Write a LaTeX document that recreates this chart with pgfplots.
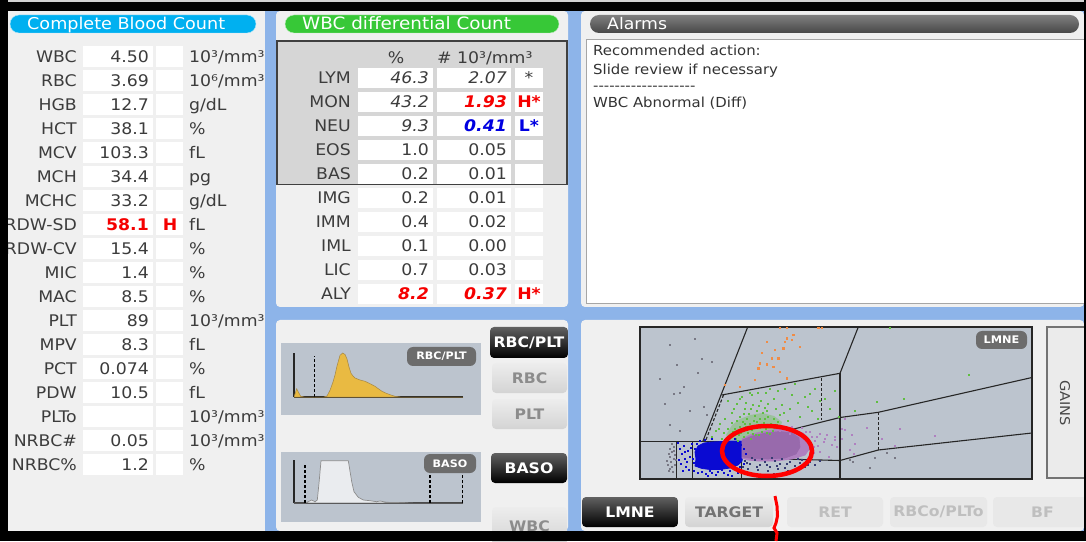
\documentclass[border=0pt]{standalone}
\usepackage{pgfplots}
\pgfplotsset{compat=1.18}
\usepackage{fontspec}
\setmainfont{DejaVu Sans}[FakeStretch=1.08]

\definecolor{panel}{RGB}{240,240,240}
\definecolor{strip}{RGB}{141,180,233}
\definecolor{cyanpill}{RGB}{0,176,240}
\definecolor{greenpill}{RGB}{55,200,55}
\definecolor{txt}{RGB}{60,60,60}
\definecolor{diffbox}{RGB}{214,214,214}
\definecolor{histbg}{RGB}{188,196,206}
\definecolor{yel}{RGB}{233,186,66}
\definecolor{yeldk}{RGB}{165,135,70}
\definecolor{basofill}{RGB}{234,236,239}
\definecolor{badge}{RGB}{108,108,108}
\definecolor{redF}{RGB}{245,0,0}
\definecolor{blueF}{RGB}{0,0,225}
\definecolor{blueD}{RGB}{10,10,210}
\definecolor{purp}{RGB}{152,106,172}
\definecolor{purpL}{RGB}{175,128,192}
\definecolor{greenD}{RGB}{95,190,65}
\definecolor{orangeD}{RGB}{240,140,70}
\definecolor{grayD}{RGB}{120,120,132}
\definecolor{navy}{RGB}{55,60,115}

\newcommand\tf{\fontsize{16}{19}\selectfont}
\newcommand\af{\fontsize{13.8}{17}\selectfont}
\newcommand\btnf{\fontsize{14.5}{17}\selectfont\bfseries}
\newcommand\hy{-\kern0pt}
\tikzset{lab/.style={inner sep=0pt,font=\tf,text=txt}}

% Complete blood count row: y, label, value, flag, unit
\newcommand\cbc[5]{%
  \fill[white] (83,#1-10.5) rectangle (153,#1+10.5);
  \fill[white] (156,#1-10.5) rectangle (183,#1+10.5);
  \node[lab,anchor=base east] at (77,#1+6) {#2};
  \node[lab,anchor=base east] at (149,#1+6) {#3};
  \node[lab,anchor=base,text=redF,font=\tf\bfseries] at (170,#1+6) {#4};
  \node[lab,anchor=base west] at (189,#1+6) {#5};
}
% differential row: y, label, pct, abs, flag
\newcommand\dif[5]{%
  \fill[white] (358,#1-10) rectangle (433,#1+10);
  \fill[white] (437,#1-10) rectangle (511,#1+10);
  \fill[white] (515,#1-10) rectangle (543,#1+10);
  \node[lab,anchor=base east] at (351,#1+6) {#2};
  \node[lab,anchor=base east] at (429,#1+6) {#3};
  \node[lab,anchor=base east] at (507,#1+6) {#4};
  \node[lab,anchor=base,font=\tf\bfseries] at (529,#1+6) {#5};
}
\newcommand\blackbtn[5]{% x1 y1 x2 y2 text
  \shade[top color=black!62,bottom color=black,rounded corners=4pt] (#1,#2) rectangle (#3,#4);
  \node[inner sep=0pt,text=white,font=\btnf] at ({(#1+#3)/2},{(#2+#4)/2}) {#5};
}
\newcommand\graybtn[6]{% x1 y1 x2 y2 text textcolor
  \shade[top color=black!7,bottom color=black!17,rounded corners=4pt] (#1,#2) rectangle (#3,#4);
  \node[inner sep=0pt,text=#6,font=\btnf] at ({(#1+#3)/2},{(#2+#4)/2}) {#5};
}
\newcommand\palebtn[5]{%
  \fill[black!9,rounded corners=4pt] (#1,#2) rectangle (#3,#4);
  \node[inner sep=0pt,text=black!25,font=\btnf] at ({(#1+#3)/2},{(#2+#4)/2}) {#5};
}

\begin{document}
\begin{tikzpicture}
\useasboundingbox (0,0) rectangle (1086pt,541pt);
\begin{scope}[x=1pt,y=-1pt,yshift=541pt]
  \fill[black] (0,0) rectangle (1086,541);
  \fill[strip] (8,11) rectangle (1084,531);
  % panels
  \fill[panel] (8,11) rectangle (265,531);
  \fill[panel,rounded corners=4pt] (276,11) rectangle (568,307);
  \fill[panel,rounded corners=4pt] (581,11) rectangle (1084,307);
  \fill[panel,rounded corners=4pt] (276,320) rectangle (568,531);
  \fill[panel,rounded corners=4pt] (581,320) rectangle (1084,531);

  % ---- Complete Blood Count
  \fill[cyanpill,draw=white!70!cyanpill,rounded corners=9pt] (10,15) rectangle (256,33);
  \node[inner sep=0pt,anchor=base west,text=white,font=\fontsize{16.3}{19}\selectfont] at (27,30) {Complete Blood Count};
  \cbc{56.5}{WBC}{4.50}{}{10³/mm³}
  \cbc{80.5}{RBC}{3.69}{}{10⁶/mm³}
  \cbc{104.5}{HGB}{12.7}{}{g/dL}
  \cbc{128.5}{HCT}{38.1}{}{\%}
  \cbc{152.5}{MCV}{103.3}{}{fL}
  \cbc{176.5}{MCH}{34.4}{}{pg}
  \cbc{200.5}{MCHC}{33.2}{}{g/dL}
  \cbc{224.5}{RDW-SD}{\textcolor{redF}{\bfseries 58.1}}{H}{fL}
  \cbc{248.5}{RDW-CV}{15.4}{}{\%}
  \cbc{272.5}{MIC}{1.4}{}{\%}
  \cbc{296.5}{MAC}{8.5}{}{\%}
  \cbc{320.5}{PLT}{89}{}{10³/mm³}
  \cbc{344.5}{MPV}{8.3}{}{fL}
  \cbc{368.5}{PCT}{0.074}{}{\%}
  \cbc{392.5}{PDW}{10.5}{}{fL}
  \cbc{416.5}{PLTo}{}{}{10³/mm³}
  \cbc{440.5}{NRBC\#}{0.05}{}{10³/mm³}
  \cbc{464.5}{NRBC\%}{1.2}{}{\%}
  \fill[strip] (265,11) rectangle (276,531);

  % ---- WBC differential
  \fill[greenpill,draw=white!70!greenpill,rounded corners=9pt] (285,15) rectangle (559,33);
  \node[inner sep=0pt,anchor=base west,text=white,font=\fontsize{17}{19}\selectfont] at (302,30) {WBC differential Count};
  \fill[diffbox,draw=black!75,line width=1.3pt] (277,41) rectangle (567,184.5);
  \node[lab,anchor=base] at (396,63.5) {\%};
  \node[lab,anchor=base west] at (437,63.5) {\# 10³/mm³};
  \dif{78}{LYM}{\itshape 46.3}{\itshape 2.07}{\mdseries *}
  \dif{102}{MON}{\itshape 43.2}{\textcolor{redF}{\bfseries\itshape 1.93}}{\textcolor{redF}{H*}}
  \dif{126}{NEU}{\itshape 9.3}{\textcolor{blueF}{\bfseries\itshape 0.41}}{\textcolor{blueF}{L*}}
  \dif{150}{EOS}{1.0}{0.05}{}
  \dif{174}{BAS}{0.2}{0.01}{}
  \dif{198}{IMG}{0.2}{0.01}{}
  \dif{222}{IMM}{0.4}{0.02}{}
  \dif{246}{IML}{0.1}{0.00}{}
  \dif{270}{LIC}{0.7}{0.03}{}
  \dif{294}{ALY}{\textcolor{redF}{\bfseries\itshape 8.2}}{\textcolor{redF}{\bfseries\itshape 0.37}}{\textcolor{redF}{H*}}

  % ---- Alarms
  \shade[top color=black!50,bottom color=black!72,rounded corners=9pt] (590,15) rectangle (1079,33);
  \node[inner sep=0pt,anchor=base west,text=white,font=\fontsize{16}{19}\selectfont] at (607,30) {Alarms};
  \fill[white,draw=black!35,line width=1pt] (586,40) rectangle (1085,304);
  \node[inner sep=0pt,anchor=base west,text=black!80,font=\af] at (593,56) {Recommended action:};
  \node[inner sep=0pt,anchor=base west,text=black!80,font=\af] at (593,74.5) {Slide review if necessary};
  \node[inner sep=0pt,anchor=base west,text=black!80,font=\af] at (593,90.5) {\hy\hy\hy\hy\hy\hy\hy\hy\hy\hy\hy\hy\hy\hy\hy\hy\hy\hy\hy};
  \node[inner sep=0pt,anchor=base west,text=black!80,font=\af] at (593,108) {WBC Abnormal (Diff)};

  % ---- histogram panels and buttons
  \fill[histbg] (281,343) rectangle (481,415);
  \fill[histbg] (281,452) rectangle (481,522);
  \blackbtn{490}{327}{568}{358}{RBC/PLT}
  \graybtn{492}{363}{567}{393}{RBC}{black!45}
  \graybtn{492}{399}{567}{429}{PLT}{black!45}
  \blackbtn{491}{453}{567}{483}{BASO}
  \graybtn{492}{507}{567}{545}{WBC}{black!45}

  % ---- scatter panel buttons
  \fill[black!8,draw=black!55,line width=1.3pt] (1047,327) rectangle (1090,478);
  \node[inner sep=0pt,rotate=-90,text=black!72,font=\fontsize{13.5}{16}\selectfont] at (1065,403) {GAINS};
  \blackbtn{582}{497}{678}{527}{LMNE}
  \graybtn{685}{497}{773}{527}{TARGET}{black!55}
  \palebtn{787}{497}{883}{527}{RET}
  \palebtn{890}{497}{987}{527}{RBCo/PLTo}
  \palebtn{993}{497}{1092}{527}{BF}
\end{scope}

% ===== RBC/PLT histogram
\begin{axis}[at={(294pt,144pt)},anchor=south west,scale only axis,
  width=169pt,height=44pt,xmin=0,xmax=169,ymin=0,ymax=44,
  axis lines=left,axis line style={-,line width=1.2pt,black!85},ticks=none]
  \draw[line width=1.4pt,dash pattern=on 3pt off 2pt] (axis cs:20.3,0) -- (axis cs:20.3,40.7);
  \addplot[fill=yel,draw=yeldk,line width=0.5pt] coordinates {
    (0,0) (1,3) (2.7,8.3) (4.3,5) (6.7,0.7) (10,0) (30,0) (33,1) (36,6.7) (39,15)
    (41,22) (43,31) (46,41.7) (48.7,44) (51,42.5) (53,38) (55,30) (57,23.7)
    (59,21) (61,19) (66,17) (71,15.7) (76,13.3) (81,10.7) (84,8.5) (88,5.7)
    (92,3.8) (96,2.3) (101,0.7) (106,0) (169,0)} \closedcycle;
\end{axis}

% ===== BASO histogram
\begin{axis}[at={(294pt,38pt)},anchor=south west,scale only axis,
  width=169pt,height=43pt,xmin=0,xmax=169,ymin=0,ymax=43,
  axis lines=left,axis line style={-,line width=1.2pt,black!85},ticks=none]
  \addplot[fill=basofill,draw=black!45,line width=0.7pt] coordinates {
    (0,0) (11,0) (14.3,1.3) (17.7,3) (21,1.3) (23.3,3) (25.3,23) (27,42.3)
    (54.3,42.3) (57.7,21.3) (60,11.3) (64.3,5.7) (69.3,3) (76,2.3) (82.7,1.3)
    (86,2) (92.7,0.7) (109.3,0.3) (119,0) (169,0)} \closedcycle;
  \draw[line width=1.4pt,dash pattern=on 3pt off 2pt] (axis cs:11,0) -- (axis cs:11,39);
  \draw[line width=1.4pt,dash pattern=on 3pt off 2pt] (axis cs:136,0) -- (axis cs:136,31.3);
  \draw[line width=1.4pt,dash pattern=on 3pt off 2pt] (axis cs:168.5,0) -- (axis cs:168.5,31.3);
\end{axis}

% ===== LMNE scatter
\begin{axis}[at={(640pt,62pt)},anchor=south west,scale only axis,
  width=392pt,height=152pt,xmin=0,xmax=392,ymin=0,ymax=152,ticks=none,
  axis line style={line width=1.2pt,black!85},
  axis background/.style={fill=histbg},clip=false]
  % gates
  \draw[line width=1.1pt,black!85] (axis cs:107.7,152) -- (axis cs:62.7,37.3);
  \draw[line width=1.1pt,black!85,dash pattern=on 3pt off 2pt] (axis cs:83.5,84) -- (axis cs:65.5,38);
  \draw[line width=1.1pt,black!85] (axis cs:81.7,84) -- (axis cs:200,105.7) -- (axis cs:218.3,152);
  \draw[line width=1.1pt,black!85] (axis cs:200,105.7) -- (axis cs:200,0);
  \draw[line width=1.2pt,black!85,dash pattern=on 3pt off 2pt] (axis cs:181.7,101) -- (axis cs:181.7,59);
  \draw[line width=1.1pt,black!85] (axis cs:101.7,37) -- (axis cs:200,61.5) -- (axis cs:238.3,66.7) -- (axis cs:392,101.5);
  \draw[line width=1.2pt,black!85,dash pattern=on 3pt off 2pt] (axis cs:238.3,66.7) -- (axis cs:238.3,29);
  \draw[line width=1.1pt,black!85] (axis cs:101.7,21) -- (axis cs:200,18.5) -- (axis cs:238.3,29) -- (axis cs:392,46);
  \draw[line width=1.1pt,black!85] (axis cs:0,37.3) -- (axis cs:101.7,37.3);
  \draw[line width=1.1pt,black!85] (axis cs:36.7,37.3) -- (axis cs:36.7,0);
  \draw[line width=1.1pt,black!85] (axis cs:52.3,37.3) -- (axis cs:52.3,0);
  \draw[line width=1.1pt,black!85] (axis cs:101.7,37.3) -- (axis cs:101.7,0);
  % gray debris
  \addplot[only marks,mark=square*,mark size=0.5pt,grayD] coordinates {
    (30,134) (36.7,114) (71.7,117.3) (43.3,92.3) (33.3,85.7) (63.3,72.3) (50,68)
    (30,54.7) (40,48) (66.7,64) (61.7,120.7) (58,106) (40,86) (20,100) (55,140) (25,75)
    (30,30.7) (31.7,27.3) (29.3,22.3) (33.3,20.7) (30.7,17.3) (35,14) (30,10.7)
    (32.7,7.3) (33.3,32.3) (28.3,25.7) (35,24) (31.7,12.3) (27,18) (34,28) (29,8)
    (36,19) (32,35) (28,14) (210,19) (235,21.3) (255,21.3) (230,11) (213,17) (247,26)};
  % monocytes / green (dense zone + points)
  \addplot[fill=greenD,draw=none,fill opacity=0.35] coordinates {
    (86,44) (92,54) (100,60) (110,64) (122,66) (134,63) (142,57) (140,50) (128,46)
    (114,42) (100,39) (90,39)} -- cycle;
  \addplot[only marks,mark=square*,mark size=0.6pt,greenD] coordinates {
    (96,40) (99,44) (102,48) (104,42) (106,52) (108,46) (110,55) (112,49) (114,58)
    (116,44) (118,53) (120,60) (122,47) (124,56) (126,50) (128,62) (130,45) (100,52)
    (103,57) (107,60) (111,40) (115,63) (119,44) (123,66) (127,46) (131,55) (134,60)
    (98,38) (109,65) (117,68) (93,47) (90,42) (88,50) (125,71) (135,50) (138,57)
    (140,64) (105,70) (113,74) (121,78) (85,60) (80,55) (92,66) (97,75) (102,82)
    (110,86) (118,86) (126,86) (134,80) (142,74) (150,70) (158,76) (165,82) (172,68)
    (178,60) (145,90) (155,95) (130,90) (112,84) (100,80) (175,90) (185,80) (100,62)
    (92,56) (88,78) (76,48) (82,40) (72,42) (148,58) (160,62) (168,72) (152,84)
    (138,88) (128,75) (170,85) (180,78) (190,70) (195,88) (198.3,62.3) (215,68)
    (236.7,77.3) (264,80) (328.3,104) (250,151) (95,50) (101,46) (105,55) (109,50)
    (113,45) (117,57) (121,52) (125,60) (129,54) (133,48) (137,54) (97,58) (104,65)
    (111,70) (119,73) (127,68) (136,70) (144,66) (84,46) (79,50) (94,70) (106,76)};
  % lymphocytes (dense core + spread)
  \addplot[fill=blueD,draw=blueD,line width=0.8pt] coordinates {
    (55,13) (56,20) (55,27) (58,33) (64,36) (72,37) (82,37.5) (92,38) (102,38)
    (104,32) (103,24) (102,18) (98,14) (90,11) (80,9.5) (70,9.5) (62,10.5)} -- cycle;
  \addplot[only marks,mark=square*,mark size=0.6pt,blueD] coordinates {
    (40,30) (42,25) (45,20) (48,28) (41,15) (46,12) (50,22) (44,33) (49,9) (39,19)
    (47,17) (51,31) (54,8) (58,6) (62,7) (66,5) (72,6) (78,7) (84,6) (90,8) (96,9)
    (100,12) (53,20) (55,30) (57,35) (60,38) (65,39) (72,40) (85,39) (95,40) (98,6)
    (88,4) (76,4) (104,30) (106,25) (104,15) (56,24) (54,16) (59,32) (63,12) (70,8)
    (82,9) (94,11) (101,34) (43,8) (38,36) (52,35) (68,3) (92,3) (45,27)};
  % neutrophils region dark points
  \addplot[only marks,mark=square*,mark size=0.6pt,navy] coordinates {
    (105,18) (110,15) (115,19) (120,14) (125,17) (130,12) (135,18) (140,15) (145,11)
    (150,17) (155,13) (160,16) (108,10) (118,9) (128,8) (138,10) (148,8) (165,12)
    (170,17) (158,20) (112,21) (122,20) (132,21) (142,20) (103,12) (175,14) (180,18)
    (152,6) (134,5) (114,5) (107,16) (117,12) (127,14) (137,13) (147,15) (157,10)
    (162,19) (168,14)};
  % neutrophils / purple
  \addplot[fill=purpL,draw=purpL,line width=0.8pt] coordinates {
    (102,21) (102,40) (112,45) (125,48) (140,50) (153,49) (163,46) (169,40) (170,31)
    (165,24) (152,20) (135,18) (118,18) (108,19)} -- cycle;
  \addplot[fill=purp,draw=purp,line width=0.6pt] coordinates {
    (102.5,22) (102.5,39) (112,43) (125,46) (140,47.5) (152,46) (159,41) (160,32)
    (156,25) (145,21) (128,20) (112,20.5)} -- cycle;
  \addplot[only marks,mark=square*,mark size=0.6pt,purpL] coordinates {
    (150,45) (155,48) (160,44) (165,40) (168,35) (170,30) (163,25) (158,22) (166,47)
    (172,42) (175,38) (178,33) (174,26) (145,50) (140,48) (135,49) (152,52) (162,51)
    (180,45) (185,40) (176.7,42.3) (183.3,37.3) (186.7,44) (191.7,34) (180,27.3)
    (195,39) (173.3,32.3) (188.3,22.3) (170,47.3) (195,42.3) (201.7,40.7) (205,49)
    (201.7,50.7) (211.7,44) (215,35.7) (210,29) (213.3,25.7) (226.7,51.3) (241.7,40.7)
    (255,33.3) (260,50) (295,43) (196.7,32.3) (205,60.7)};
  % eosinophils / orange
  \addplot[only marks,mark=square*,mark size=0.65pt,orangeD] coordinates {
    (126.7,137.3) (135,129) (146.7,140.7) (153.3,144) (143.3,130.7) (138.3,120.7)
    (131.7,120.7) (120,115.7) (126.7,114.7) (133.3,112.3) (140,107.3) (146.7,100.7)
    (118.3,110.7) (115,99) (100,92.3) (85,94) (145,137.3) (151.7,139) (140,151)
    (146.7,151) (178.3,151) (181.7,151) (160,132) (122,126)};
\end{axis}

% ===== overlay
\begin{scope}[x=1pt,y=-1pt,yshift=541pt]
  \node[fill=badge,rounded corners=6pt,minimum width=69pt,minimum height=19pt,inner sep=0pt,
        text=white,font=\fontsize{10.3}{12}\selectfont\bfseries] at (441.5,356.5) {RBC/PLT};
  \node[fill=badge,rounded corners=6pt,minimum width=52pt,minimum height=19pt,inner sep=0pt,
        text=white,font=\fontsize{10.3}{12}\selectfont\bfseries] at (450,463.5) {BASO};
  \node[fill=badge,rounded corners=6pt,minimum width=51pt,minimum height=18pt,inner sep=0pt,
        text=white,font=\fontsize{10.5}{12}\selectfont\bfseries] at (1001.5,340) {LMNE};
  \draw[red,line width=4.5pt] (767,451) ellipse [x radius=45,y radius=25];
  % frame
  \fill[black] (0,0) rectangle (1086,11);
  \fill[black!18] (0,0) rectangle (1086,2.5);
  \fill[black] (0,0) rectangle (8,541);
  \fill[black] (0,531) rectangle (1086,541);
  \fill[black] (1084,0) rectangle (1086,541);
  \draw[red,line width=3pt] (775,496) -- (777,506) -- (777.5,516) -- (776,523) -- (774,528) -- (777,533) -- (776,541);
\end{scope}
\end{tikzpicture}
\end{document}
